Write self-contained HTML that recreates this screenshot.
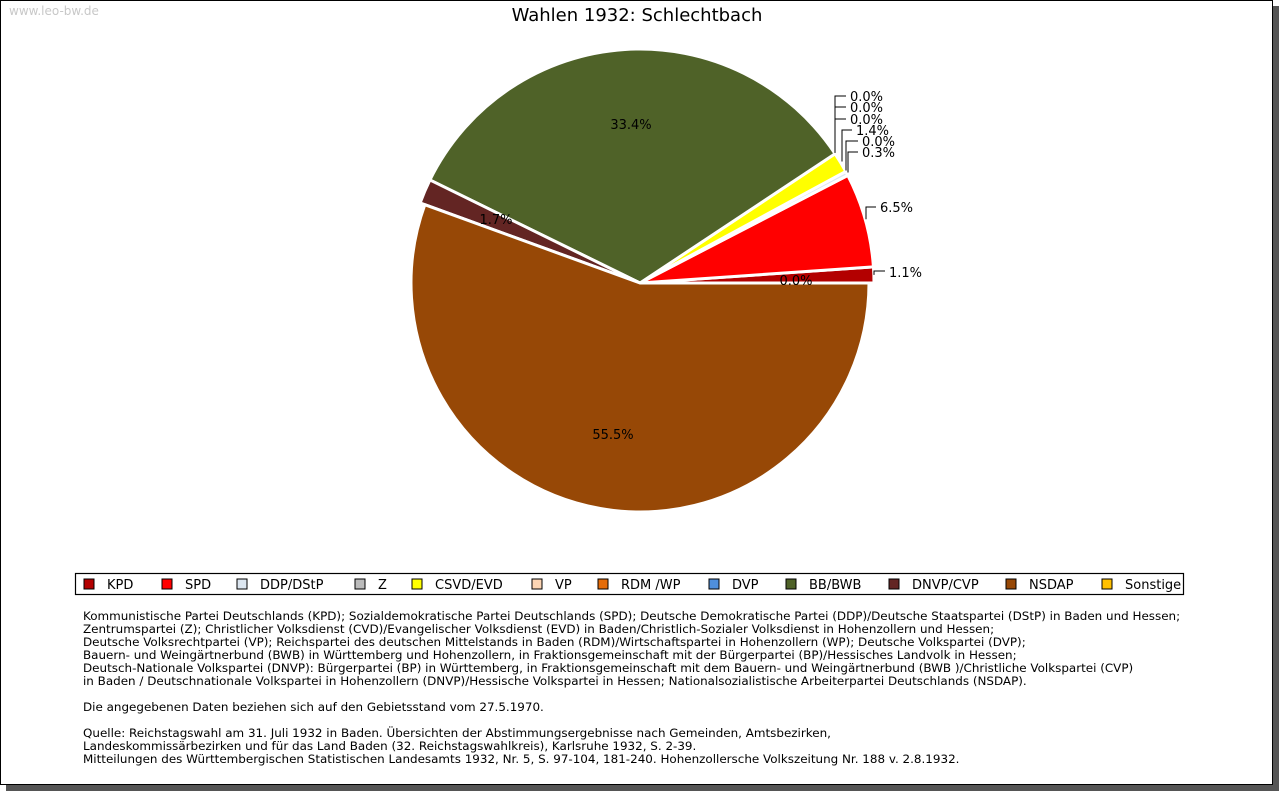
<!DOCTYPE html>
<html><head><meta charset="utf-8"><style>
body{margin:0;width:1280px;height:791px;background:#fff;overflow:hidden;font-family:"DejaVu Sans","Liberation Sans",sans-serif;}
#frame{position:absolute;left:0;top:0;width:1271px;height:783px;border:1px solid #000;box-shadow:6px 6px 0 #555;background:#fff;}
#wm{position:absolute;left:9px;top:4px;font-size:12px;color:#c8c8c8;}
#notes{position:absolute;left:83px;top:610px;font-size:11.93px;line-height:13px;color:#000;white-space:pre;}
</style></head><body>
<div id="frame"></div>
<div id="wm">www.leo-bw.de</div>
<svg id="chart" width="1280" height="791" style="position:absolute;left:0;top:0">
<text x="637" y="21" text-anchor="middle" font-size="18" font-family="DejaVu Sans, sans-serif">Wahlen 1932: Schlechtbach</text>
<g id="slices"></g><g id="labels"></g>
<rect x="75.5" y="573.5" width="1108" height="21" fill="none" stroke="#000" stroke-width="1.2"/>
<g id="legend"></g>
</svg>
<div id="notes">Kommunistische Partei Deutschlands (KPD); Sozialdemokratische Partei Deutschlands (SPD); Deutsche Demokratische Partei (DDP)/Deutsche Staatspartei (DStP) in Baden und Hessen;
Zentrumspartei (Z); Christlicher Volksdienst (CVD)/Evangelischer Volksdienst (EVD) in Baden/Christlich-Sozialer Volksdienst in Hohenzollern und Hessen;
Deutsche Volksrechtpartei (VP); Reichspartei des deutschen Mittelstands in Baden (RDM)/Wirtschaftspartei in Hohenzollern (WP); Deutsche Volkspartei (DVP);
Bauern- und Weingärtnerbund (BWB) in Württemberg und Hohenzollern, in Fraktionsgemeinschaft mit der Bürgerpartei (BP)/Hessisches Landvolk in Hessen;
Deutsch-Nationale Volkspartei (DNVP): Bürgerpartei (BP) in Württemberg, in Fraktionsgemeinschaft mit dem Bauern- und Weingärtnerbund (BWB )/Christliche Volkspartei (CVP)
in Baden / Deutschnationale Volkspartei in Hohenzollern (DNVP)/Hessische Volkspartei in Hessen; Nationalsozialistische Arbeiterpartei Deutschlands (NSDAP).

Die angegebenen Daten beziehen sich auf den Gebietsstand vom 27.5.1970.

Quelle: Reichstagswahl am 31. Juli 1932 in Baden. Übersichten der Abstimmungsergebnisse nach Gemeinden, Amtsbezirken,
Landeskommissärbezirken und für das Land Baden (32. Reichstagswahlkreis), Karlsruhe 1932, S. 2-39.
Mitteilungen des Württembergischen Statistischen Landesamts 1932, Nr. 5, S. 97-104, 181-240. Hohenzollersche Volkszeitung Nr. 188 v. 2.8.1932.</div>
<script>
const categories=["KPD","SPD","DDP/DStP","Z","CSVD/EVD","VP","RDM /WP","DVP","BB/BWB","DNVP/CVP","NSDAP","Sonstige"];
const values=[1.1,6.5,0.3,0.0,1.4,0.0,0.0,0.0,33.4,1.7,55.5,0.0];
const colors=["#b30000","#ff0000","#dce6f0","#bbbbbb","#ffff00","#fcd5b4","#e46c0a","#4f8fdb","#4f6228","#632523","#974806","#ffc000"];
const legendX=[84,162,237,355,412,532,598,709,786,889,1006,1102];
// outside-label layout (pixel positions, not data): [labelX,labelY,elbowX,elbowY]
const outLayout={0:[889,277,874,271],1:[880,212,866,207],2:[862,157,848,152],3:[862,146,846,141],4:[856,135,842,130],5:[850,101,835,96],6:[850,112,835,107],7:[850,124,835,119]};
const inLayout={8:[631,129],9:[496,224],10:[613,439],11:[796,285]};
const NS="http://www.w3.org/2000/svg";
const cx=640,cy=283,R=234;
const total=values.reduce((a,b)=>a+b,0);
function pt(a,r){return [cx+r*Math.cos(a),cy-r*Math.sin(a)];}
const sg=document.getElementById('slices'),lg=document.getElementById('labels'),leg=document.getElementById('legend');
let acc=0;
values.forEach((v,i)=>{
  const a0=acc/total*2*Math.PI; acc+=v; const a1=acc/total*2*Math.PI;
  const r=i===10?229:R;
  if(v>0){
    const p0=pt(a0,r),p1=pt(a1,r);
    const p=document.createElementNS(NS,'path');
    p.setAttribute('d',`M${cx},${cy}L${p0[0]},${p0[1]}A${r},${r} 0 ${a1-a0>Math.PI?1:0} 0 ${p1[0]},${p1[1]}Z`);
    p.setAttribute('fill',colors[i]);p.setAttribute('stroke','#fff');p.setAttribute('stroke-width','3');p.setAttribute('stroke-linejoin','round');
    
    
    sg.appendChild(p);
  }
  const am=(a0+a1)/2;
  const t=document.createElementNS(NS,'text');
  t.textContent=v.toFixed(1)+'%';t.setAttribute('font-size','13');
  
  
  if(outLayout[i]){
    const [lx,ly,ex,ey]=outLayout[i];const e=pt(am,R+2);
    const l=document.createElementNS(NS,'polyline');
    l.setAttribute('points',`${ex},${e[1]} ${ex},${ey} ${lx-4},${ey}`);
    l.setAttribute('fill','none');l.setAttribute('stroke','#000');
    
    
    lg.appendChild(l);
    t.setAttribute('x',lx);t.setAttribute('y',ly);
  }else{
    const [lx,ly]=inLayout[i];t.setAttribute('x',lx);t.setAttribute('y',ly);t.setAttribute('text-anchor','middle');
  }
  lg.appendChild(t);
  const s=document.createElementNS(NS,'rect');
  s.setAttribute('x',legendX[i]);s.setAttribute('y',579);s.setAttribute('width',10);s.setAttribute('height',10);
  s.setAttribute('fill',colors[i]);s.setAttribute('stroke','#000');
  
  
  leg.appendChild(s);
  const lt=document.createElementNS(NS,'text');
  lt.textContent=categories[i];lt.setAttribute('x',legendX[i]+23);lt.setAttribute('y',589);lt.setAttribute('font-size','13');
  
  
  leg.appendChild(lt);
});
</script>
</body></html>
